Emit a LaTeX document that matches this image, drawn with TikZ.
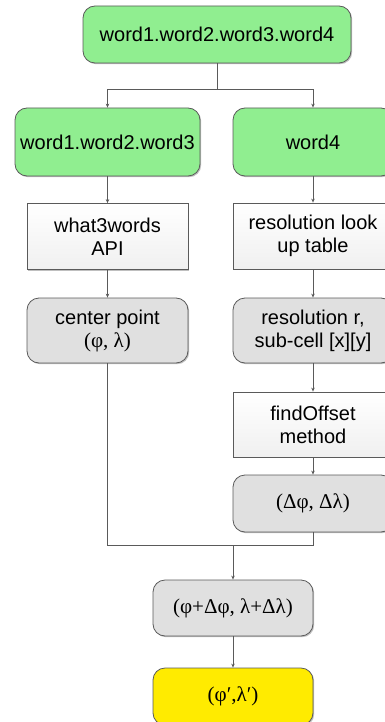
\documentclass[tikz,border=0pt]{standalone}
\usepackage{fontspec}
\setmainfont{Liberation Sans}
\newfontfamily\seriffont{Liberation Serif}
\usetikzlibrary{arrows.meta,shadows}
\definecolor{boxgreen}{HTML}{90EE90}
\definecolor{boxgrey}{HTML}{E0E0E0}
\definecolor{boxyellow}{HTML}{FFEB00}
\definecolor{linegrey}{HTML}{5A5A5A}
\tikzset{
  base/.style={draw=linegrey, line width=0.8pt, align=center, inner sep=2pt,
    font=\fontsize{20}{23}\selectfont,
    drop shadow={shadow xshift=1.2pt, shadow yshift=-1.2pt, opacity=0.25, fill=black}},
  greenbox/.style={base, fill=boxgreen, rounded corners=12pt},
  rectbox/.style={base, top color=white, bottom color=gray!12},
  greybox/.style={base, fill=boxgrey, rounded corners=12pt},
  yellowbox/.style={base, fill=boxyellow, rounded corners=12pt},
  mathtext/.style={font=\seriffont\fontsize{21}{23}\selectfont},
  conn/.style={draw=linegrey, line width=0.8pt},
  arr/.style={conn, -{Stealth[length=4pt,width=3.5pt]}}
}
\begin{document}
\begin{tikzpicture}[x=1pt,y=-1pt]
\useasboundingbox (0,0) rectangle (385,722);
\node[greenbox, minimum width=268pt, minimum height=57pt] (top) at (217,34.5) {word1.word2.word3.word4};
\node[greenbox, minimum width=185pt, minimum height=68pt] (lg) at (107.5,142) {word1.word2.word3};
\node[greenbox, minimum width=160pt, minimum height=68pt] (rg) at (313,142) {word4};
\node[rectbox, minimum width=161pt, minimum height=66pt] (api) at (107.5,236.5) {what3words\\API};
\node[rectbox, minimum width=160pt, minimum height=66pt] (lut) at (313,236) {resolution look\\up table};
\node[greybox, minimum width=161pt, minimum height=65pt] (cp) at (107.5,330.5) {center point\\{\seriffont\fontsize{21}{23}\selectfont(φ, λ)}};
\node[greybox, minimum width=160pt, minimum height=65pt] (rr) at (313,330.5) {resolution r,\\sub-cell [x][y]};
\node[rectbox, minimum width=160pt, minimum height=65pt] (fo) at (313,424.5) {findOffset\\method};
\node[greybox, mathtext, minimum width=160pt, minimum height=57pt] (dl) at (313,503.5) {(Δφ, Δλ)};
\node[greybox, mathtext, minimum width=160pt, minimum height=56pt] (sum) at (233,608) {(φ+Δφ, λ+Δλ)};
\node[yellowbox, mathtext, minimum width=160pt, minimum height=57pt] (res) at (233,696.5) {(φ′,λ′)};
\coordinate (j1) at (217,89);
\coordinate (m) at (233,545);
\draw[conn] (top.south) -- (j1);
\draw[arr] (j1) -| (lg.north);
\draw[arr] (j1) -| (rg.north);
\draw[arr] (lg.south) -- (api.north);
\draw[arr] (rg.south) -- (lut.north);
\draw[arr] (api.south) -- (cp.north);
\draw[arr] (lut.south) -- (rr.north);
\draw[arr] (rr.south) -- (fo.north);
\draw[arr] (fo.south) -- (dl.north);
\draw[conn] (cp.south) |- (m);
\draw[conn] (dl.south) |- (m);
\draw[arr] (m) -- (sum.north);
\draw[arr] (sum.south) -- (res.north);
\end{tikzpicture}
\end{document}
